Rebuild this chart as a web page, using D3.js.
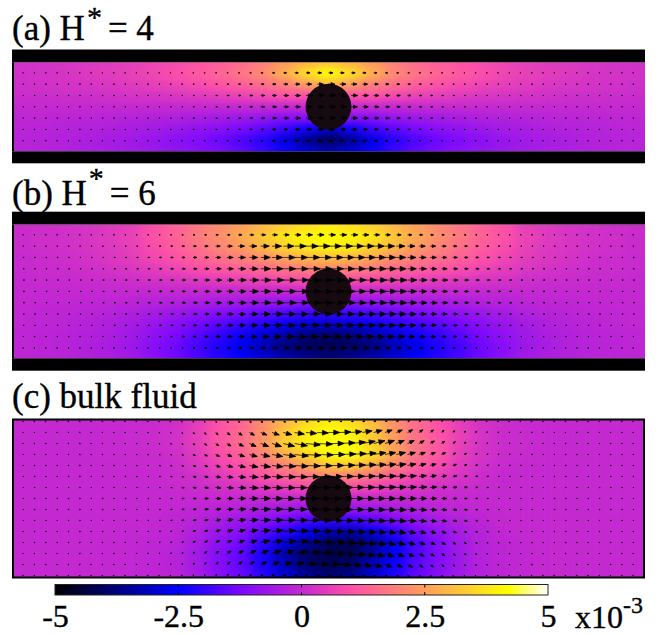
<!DOCTYPE html>
<html>
<head>
<meta charset="utf-8">
<script src="https://cdnjs.cloudflare.com/ajax/libs/d3/7.8.5/d3.min.js"></script>
<style>
  html, body { margin: 0; padding: 0; background: #fff; }
  svg { display: block; }
  text { font-family: "Liberation Serif", "Times New Roman", serif; fill: #000; stroke: #000; stroke-width: 0.35; }
</style>
</head>
<body>
<svg id="chart" width="670" height="635"></svg>
<script>
// ── Colour scale (x10^-3) ────────────────────────────────────
const colorValues = [-5, -2.5, -1.25, 0, 1, 2.5, 4.2, 5];
const colorStops  = ["#000000", "#0000ff", "#7a08ff", "#c428d0", "#ff50a8", "#ff9e5c", "#ffff00", "#ffffff"];
const colorTicks  = [-5, -2.5, 0, 2.5, 5];
const colorTickLabels = ["-5", "-2.5", "0", "2.5", "5"];

// ── Heat values, x10^-3 ──────────────────────────────────────
// Rows run from the top wall to the mid line. The lower half of each
// channel is the same field with the sign flipped.
// (a), (b): columns run from |x| = 14 to x = 0 and are mirrored.
const heatRowsA = [2, 1.5, 1, 0.5, 0];
const heatA = [
  [.2, .25, .3, .4, .45, .55, .7, .85, 1.0, 1.2, 1.5, 1.9, 2.4, 2.9, 3.2],
  [.2, .25, .3, .4, .5, .6, .75, .95, 1.15, 1.4, 1.7, 2.1, 2.8, 3.6, 4.2],
  [.15, .2, .25, .3, .35, .45, .55, .7, .85, 1.0, 1.25, 1.55, 1.9, 2.4, 3.0],
  [.1, .1, .15, .15, .2, .25, .3, .35, .45, .55, .65, .8, 1.0, 1.0, .9],
  [0, 0, 0, 0, 0, 0, 0, 0, 0, 0, 0, 0, 0, 0, 0]
];
const heatRowsB = [3, 2.5, 2, 1.5, 1, 0.5, 0];
const heatB = [
  [.1, .15, .2, .3, .4, .55, .95, 1.3, 1.7, 2.1, 2.5, 2.9, 3.3, 3.6, 3.8],
  [.1, .15, .2, .3, .45, .65, 1.0, 1.35, 1.8, 2.2, 2.7, 3.2, 3.8, 4.1, 4.2],
  [.1, .15, .2, .3, .4, .6, .9, 1.2, 1.6, 2.0, 2.4, 2.9, 3.4, 3.8, 4.0],
  [.05, .1, .15, .25, .35, .5, .75, 1.0, 1.3, 1.6, 1.9, 2.2, 2.6, 2.9, 3.0],
  [.05, .1, .1, .15, .25, .35, .5, .7, .9, 1.05, 1.25, 1.45, 1.7, 1.9, 2.0],
  [0, .05, .05, .1, .1, .15, .25, .3, .4, .5, .6, .7, .8, .9, .95],
  [0, 0, 0, 0, 0, 0, 0, 0, 0, 0, 0, 0, 0, 0, 0]
];
// (c): the field leans to the right, so columns run x = -14 .. 14 in full
const heatRowsC = [3.5, 3, 2.5, 2, 1.5, 1, 0.5, 0];
const heatC = [
  [0, 0, 0, 0, .02, .05, .08, .15, .5, 1.0, 1.4, 2.1, 2.9, 3.5, 3.9, 3.6, 3.0, 2.2, 1.5, 1.0, .55, .25, .1, .05, 0, 0, 0, 0, 0],
  [0, 0, 0, 0, .02, .05, .1, .2, .55, 1.05, 1.5, 2.25, 3.2, 3.9, 4.2, 4.0, 3.2, 2.4, 1.6, 1.05, .6, .25, .1, .05, 0, 0, 0, 0, 0],
  [0, 0, 0, 0, .02, .05, .1, .2, .55, 1.05, 1.5, 2.3, 3.3, 4.0, 4.25, 4.2, 3.4, 2.5, 1.7, 1.1, .6, .25, .1, .05, 0, 0, 0, 0, 0],
  [0, 0, 0, 0, .02, .05, .08, .15, .45, .9, 1.3, 2.0, 2.8, 3.5, 4.1, 4.25, 3.7, 2.6, 1.7, 1.1, .55, .25, .1, .05, 0, 0, 0, 0, 0],
  [0, 0, 0, 0, 0, .03, .05, .1, .35, .7, 1.0, 1.5, 2.0, 2.6, 3.2, 3.3, 2.7, 2.0, 1.3, .85, .45, .2, .05, 0, 0, 0, 0, 0, 0],
  [0, 0, 0, 0, 0, 0, .03, .1, .2, .45, .7, 1.0, 1.3, 1.7, 2.0, 1.9, 1.6, 1.2, .8, .5, .3, .1, 0, 0, 0, 0, 0, 0, 0],
  [0, 0, 0, 0, 0, 0, 0, .05, .1, .2, .3, .45, .6, .8, .9, .85, .7, .5, .35, .2, .1, .05, 0, 0, 0, 0, 0, 0, 0],
  [0, 0, 0, 0, 0, 0, 0, 0, 0, 0, 0, 0, 0, 0, 0, 0, 0, 0, 0, 0, 0, 0, 0, 0, 0, 0, 0, 0, 0]
];

// ── Velocity arrows ──────────────────────────────────────────
// One row per grid line from the mid line outwards, columns from n = 27
// to n = 0. Mirrored in x and y, which is what the picture shows.
const flowUA = [
  [4, 4, 4, 5, 5, 5, 6, 6, 7, 7, 8, 9, 10, 11, 13, 15, 18, 21, 25, 29, 34, 40, 46, 52, 58, 64, 68, 70],
  [4, 4, 4, 5, 5, 5, 6, 6, 7, 7, 8, 9, 10, 11, 13, 15, 18, 21, 25, 29, 34, 40, 46, 53, 60, 66, 70, 72],
  [3, 3, 4, 4, 4, 5, 5, 5, 6, 7, 7, 8, 9, 10, 11, 13, 15, 18, 21, 25, 29, 34, 40, 46, 52, 58, 62, 64],
  [2, 2, 3, 3, 3, 3, 4, 4, 4, 5, 5, 6, 6, 7, 8, 9, 10, 12, 14, 17, 20, 24, 28, 33, 37, 41, 44, 45]
];
const flowUB = [
  [10, 10, 11, 12, 13, 14, 15, 17, 19, 21, 24, 27, 30, 34, 39, 45, 52, 60, 69, 80, 91, 103, 115, 127, 138, 147, 153, 155],
  [10, 10, 11, 12, 13, 14, 15, 17, 19, 21, 24, 27, 31, 35, 40, 46, 53, 62, 71, 82, 93, 105, 118, 130, 141, 150, 156, 158],
  [8, 9, 10, 10, 11, 12, 13, 15, 17, 19, 21, 24, 28, 32, 37, 42, 49, 57, 66, 76, 87, 99, 111, 123, 134, 142, 147, 149],
  [7, 7, 8, 8, 9, 10, 11, 13, 15, 17, 19, 21, 25, 29, 34, 40, 46, 54, 63, 73, 84, 95, 107, 119, 130, 138, 143, 145],
  [4, 4, 5, 5, 6, 7, 8, 9, 10, 12, 14, 17, 20, 24, 29, 34, 40, 47, 55, 64, 74, 85, 95, 106, 115, 122, 126, 128],
  [2, 2, 3, 3, 4, 4, 5, 5, 6, 7, 8, 10, 12, 14, 17, 20, 24, 28, 33, 38, 43, 49, 54, 59, 64, 67, 69, 70]
];
const flowUC = [
  [4, 4, 4, 5, 5, 5, 6, 7, 8, 10, 11, 13, 16, 20, 26, 33, 42, 55, 66, 78, 88, 98, 107, 115, 122, 127, 130, 132],
  [4, 4, 4, 5, 5, 5, 6, 7, 8, 9, 11, 13, 16, 20, 26, 33, 42, 54, 65, 78, 89, 99, 109, 117, 124, 129, 132, 134],
  [4, 4, 4, 4, 5, 5, 6, 6, 7, 9, 10, 12, 15, 19, 25, 32, 40, 52, 63, 76, 88, 100, 111, 120, 128, 134, 138, 140],
  [3, 3, 4, 4, 4, 5, 5, 6, 7, 8, 9, 11, 14, 17, 22, 29, 37, 47, 59, 72, 85, 98, 111, 123, 134, 143, 150, 153],
  [3, 3, 3, 4, 4, 4, 5, 5, 6, 7, 8, 10, 12, 15, 19, 25, 32, 41, 52, 65, 78, 93, 108, 123, 137, 150, 160, 164],
  [2, 2, 3, 3, 3, 4, 4, 4, 5, 6, 7, 8, 10, 12, 15, 20, 26, 33, 42, 53, 66, 80, 95, 112, 128, 143, 152, 156],
  [2, 2, 2, 3, 3, 3, 3, 4, 4, 5, 5, 6, 8, 9, 12, 15, 20, 26, 33, 40, 50, 60, 72, 85, 97, 108, 112, 112],
  [1, 1, 1, 2, 2, 2, 2, 2, 3, 3, 3, 4, 4, 5, 6, 8, 10, 13, 16, 18, 20, 22, 23, 24, 24, 23, 22, 20]
];
const flowVC = [
  [0, 0, 0, 0, 0, 0, 0, 0, 0, 0, 0, 0, 0, 0, 0, 0, 0, 0, 0, 0, 0, 0, 0, 0, 0, 0, 0, 0],
  [0, 0, 0, 0, 0, 0, 0, 0, 0, 0, 0, 0, 1, 1, 2, 3, 4, 5, 5, 5, 5, 4, 4, 3, 2, 1, 1, 0],
  [0, 0, 0, 0, 0, 0, 0, 0, 0, 0, 1, 1, 1, 2, 3, 5, 7, 9, 10, 9, 8, 7, 6, 5, 4, 3, 1, 0],
  [0, 0, 0, 0, 0, 0, 1, 1, 1, 1, 2, 2, 3, 4, 6, 9, 11, 14, 15, 16, 15, 14, 13, 11, 9, 6, 3, 0],
  [0, 0, 0, 0, 0, 1, 1, 1, 1, 2, 2, 3, 4, 5, 8, 11, 15, 18, 20, 20, 20, 20, 20, 19, 16, 10, 5, 0],
  [0, 0, 0, 0, 1, 1, 1, 1, 2, 2, 3, 4, 5, 6, 10, 14, 18, 22, 25, 27, 29, 30, 30, 28, 23, 15, 8, 0],
  [0, 0, 0, 0, 1, 1, 1, 1, 2, 2, 3, 4, 5, 6, 9, 13, 18, 22, 25, 27, 27, 25, 24, 22, 17, 10, 5, 0],
  [0, 0, 0, 0, 0, 1, 1, 1, 1, 1, 1, 2, 2, 3, 4, 6, 8, 10, 10, 8, 7, 6, 5, 5, 4, 2, 1, 0]
];

// ── Panel layout ─────────────────────────────────────────────
const X_UNITS  = 14.4;                 // half length of the channel
const SPHERE_R = 1.045;
const COL_STEP = 0.514;                // arrow grid spacing
const panels = [
  { id: "a", label: "(a) H", star: true, starRise: 12.7, tail: "= 4", baseline: 39.5,
    frameTop: 49.5, frameBottom: 163.3, top: 62.3, bottom: 151.3, halfH: 2.02, rowStep: 0.514,
    heatRows: heatRowsA, heat: heatA, mirrorX: true, flowU: flowUA, flowV: null, walls: true },
  { id: "b", label: "(b) H", star: true, starRise: 16.5, tail: "= 6", baseline: 204.5,
    frameTop: 211.7, frameBottom: 370.7, top: 224.5, bottom: 358.3, halfH: 3.04, rowStep: 0.514,
    heatRows: heatRowsB, heat: heatB, mirrorX: true, flowU: flowUB, flowV: null, walls: true },
  { id: "c", label: "(c) bulk fluid", star: false, tail: "", baseline: 408,
    frameTop: 419.5, frameBottom: 577.5, top: 419.5, bottom: 577.5, halfH: 3.59, rowStep: 0.5,
    heatRows: heatRowsC, heat: heatC, mirrorX: false, flowU: flowUC, flowV: flowVC, walls: false }
];

const svg  = d3.select("#chart");
const defs = svg.append("defs");

const xScale  = d3.scaleLinear().domain([-X_UNITS, X_UNITS]).range([12, 645]);
const color   = d3.scaleLinear().domain(colorValues).range(colorStops).clamp(true);
const arrowLen = d3.scaleLinear().domain([0, 100]).range([0, 10]);

defs.append("filter").attr("id", "soften")
    .attr("filterUnits", "userSpaceOnUse")
    .attr("x", -40).attr("y", 0).attr("width", 760).attr("height", 635)
    .attr("color-interpolation-filters", "sRGB")
  .append("feGaussianBlur").attr("stdDeviation", "7 3.5");

// ── Draw one panel ───────────────────────────────────────────
function drawPanel(p) {
  const yScale = d3.scaleLinear().domain([p.halfH, -p.halfH]).range([p.top, p.bottom]);
  const g = svg.append("g").attr("class", "panel panel-" + p.id);

  // title
  const title = g.append("text")
      .attr("x", 12).attr("y", p.baseline)
      .attr("font-size", 35);
  title.append("tspan").text(p.label);
  if (p.star) {
    title.append("tspan").attr("dx", 2).attr("dy", -p.starRise).attr("font-size", 30).text("*");
    title.append("tspan").attr("dx", 6).attr("dy", p.starRise).text(p.tail);
  }

  // heat cells, mirrored into the full channel
  const cells = [];
  const rowY = p.heatRows.concat(p.heatRows.slice(0, -1).reverse().map(d => -d));
  rowY.forEach((y, r) => {
    const idx  = r < p.heatRows.length ? r : rowY.length - 1 - r;
    const sign = r < p.heatRows.length ? 1 : -1;
    const row  = p.heat[idx];
    const full = p.mirrorX ? row.concat(row.slice(0, -1).reverse()) : row;
    full.forEach((v, c) => cells.push({ x: c - 14, y: y, r: r, c: c, v: sign * v, nr: rowY.length, nc: full.length }));
  });

  defs.append("clipPath").attr("id", "clip-" + p.id)
    .append("rect")
      .attr("x", xScale(-X_UNITS)).attr("y", p.top)
      .attr("width", xScale(X_UNITS) - xScale(-X_UNITS)).attr("height", p.bottom - p.top);

  const cellW = 1, cellH = 0.5;
  g.append("g").attr("clip-path", "url(#clip-" + p.id + ")")
   .append("g").attr("filter", "url(#soften)")
    .selectAll("rect").data(cells).join("rect")
      // border cells run on past the clip so the blur does not fade at the edge
      .attr("x", d => xScale(d.x - cellW / 2 - (d.c === 0 ? 2 : 0)))
      .attr("width", d => xScale(d.x + cellW / 2 + (d.c === d.nc - 1 ? 2 : 0)) - xScale(d.x - cellW / 2 - (d.c === 0 ? 2 : 0)) + 0.5)
      .attr("y", d => yScale(d.y + cellH / 2 + (d.r === 0 ? 2 : 0)))
      .attr("height", d => yScale(d.y - cellH / 2 - (d.r === d.nr - 1 ? 2 : 0)) - yScale(d.y + cellH / 2 + (d.r === 0 ? 2 : 0)) + 0.5)
      .attr("fill", d => color(d.v));

  // walls / frame
  if (p.walls) {
    g.append("rect").attr("x", 12).attr("y", p.frameTop).attr("width", 633).attr("height", p.top - p.frameTop).attr("fill", "#000");
    g.append("rect").attr("x", 12).attr("y", p.bottom).attr("width", 633).attr("height", p.frameBottom - p.bottom).attr("fill", "#000");
    g.append("rect").attr("x", 12).attr("y", p.top).attr("width", 2).attr("height", p.bottom - p.top).attr("fill", "#000");
  } else {
    g.append("rect").attr("x", 13).attr("y", p.frameTop).attr("width", 631).attr("height", p.frameBottom - p.frameTop)
      .attr("fill", "none").attr("stroke", "#000").attr("stroke-width", 2);
  }

  // sphere
  g.append("circle")
    .attr("cx", xScale(0)).attr("cy", yScale(0))
    .attr("r", xScale(SPHERE_R) - xScale(0))
    .attr("fill", "#160a10");

  // arrows
  const arrows = [];
  p.flowU.forEach((row, k) => {
    const rowSigns = k === 0 ? [1] : [1, -1];
    rowSigns.forEach(ys => {
      row.forEach((u, i) => {
        const n = 27 - i;
        const v = p.flowV ? p.flowV[k][i] : 0;
        const colSigns = n === 0 ? [1] : [1, -1];
        colSigns.forEach(xs => arrows.push({
          x: -xs * n * COL_STEP,
          y: ys * k * p.rowStep,
          u: u,
          // down on the left of the sphere, up on the right, flipped below the mid line
          v: xs * ys * v
        }));
      });
    });
  });

  g.append("g").attr("class", "arrows")
    .selectAll("path").data(arrows).join("path")
      .attr("transform", d => {
        const dx = arrowLen(d.u), dy = arrowLen(d.v);
        return `translate(${xScale(d.x)},${yScale(d.y)}) rotate(${Math.atan2(dy, dx) * 180 / Math.PI})`;
      })
      .attr("d", d => {
        const len = Math.hypot(arrowLen(d.u), arrowLen(d.v));
        const head = Math.min(6, Math.max(0.9, len * 0.62));
        const wing = head * 0.4;
        const path = d3.path();
        path.moveTo(0, 0);
        path.lineTo(len, 0);
        path.moveTo(len, 0);
        path.lineTo(len - head, -wing);
        path.lineTo(len - head, wing);
        path.closePath();
        return path.toString();
      })
      .attr("fill", "#000").attr("stroke", "#000").attr("stroke-width", 0.7);
}

panels.forEach(drawPanel);

// ── Colour bar ───────────────────────────────────────────────
const barScale = d3.scaleLinear().domain([-5, 5]).range([55, 548]);
const BAR_TOP = 584.5, BAR_H = 10.5;

const grad = defs.append("linearGradient").attr("id", "bar-gradient");
grad.selectAll("stop").data(colorValues).join("stop")
    .attr("offset", d => ((d + 5) / 10 * 100) + "%")
    .attr("stop-color", d => color(d));

const bar = svg.append("g").attr("class", "colorbar");
bar.append("rect")
    .attr("x", barScale(-5)).attr("y", BAR_TOP)
    .attr("width", barScale(5) - barScale(-5)).attr("height", BAR_H)
    .attr("fill", "url(#bar-gradient)")
    .attr("stroke", "#222").attr("stroke-width", 1);

colorTicks.slice(1, -1).forEach(t => {
  bar.append("line").attr("x1", barScale(t)).attr("x2", barScale(t))
     .attr("y1", BAR_TOP).attr("y2", BAR_TOP + 3).attr("stroke", "#000");
  bar.append("line").attr("x1", barScale(t)).attr("x2", barScale(t))
     .attr("y1", BAR_TOP + BAR_H - 3).attr("y2", BAR_TOP + BAR_H).attr("stroke", "#000");
});

bar.append("g")
    .attr("transform", `translate(0,${BAR_TOP + BAR_H})`)
    .call(d3.axisBottom(barScale)
      .tickValues(colorTicks)
      .tickFormat((d, i) => colorTickLabels[i])
      .tickSize(0).tickPadding(9))
    .call(a => a.select(".domain").remove())
    .selectAll("text")
      .attr("font-family", null)
      .attr("font-size", 32)
      .attr("fill", "#000");

const expo = svg.append("text").attr("x", 575).attr("y", 628).attr("font-size", 32);
expo.append("tspan").text("x10");
expo.append("tspan").attr("dy", -15).attr("font-size", 24).text("-3");
</script>
</body>
</html>
